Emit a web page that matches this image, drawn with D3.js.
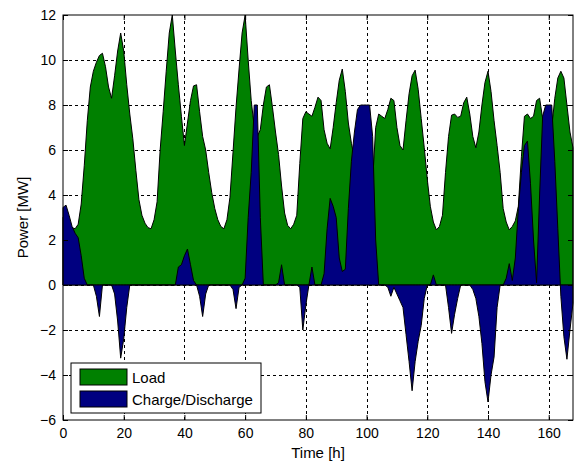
<!DOCTYPE html>
<html>
<head>
<meta charset="utf-8">
<script src="https://cdn.jsdelivr.net/npm/d3@7"></script>
<style>
	body { margin: 0; background: #fff; }
	text { font-family: "Liberation Sans", Arial, sans-serif; fill: #000; }
</style>
</head>
<body>
<div id="chart"></div>
<script>
// hourly values, t = 0..168 h
var load = [
	3.0, 2.8, 2.65, 2.55, 2.5, 2.7, 3.6, 5.3, 7.3, 8.8,
	9.5, 9.9, 10.2, 10.3, 9.7, 8.8, 8.3, 9.3, 10.4, 11.2,
	10.4, 8.9, 7.6, 6.5, 5.1, 3.8, 3.1, 2.75, 2.55, 2.5,
	2.9, 3.7, 6.0, 7.7, 9.5, 11.2, 12.0, 10.4, 8.9, 7.5,
	6.2, 7.2, 8.2, 8.85, 8.9, 7.7, 6.6, 6.0, 5.0, 4.1,
	3.4, 2.9, 2.6, 2.5, 2.9, 3.9, 5.9, 7.9, 9.6, 11.2,
	12.0, 10.0, 8.2, 7.0, 6.6, 6.9, 8.0, 8.8, 8.9, 7.9,
	6.8, 5.8, 4.4, 3.2, 2.65, 2.5, 2.7, 3.1, 5.4, 7.4,
	7.7, 7.6, 7.5, 7.9, 8.35, 8.2, 6.9, 6.3, 6.05, 7.0,
	8.1, 9.1, 9.6, 8.6, 7.2, 6.3, 5.6, 4.6, 3.4, 2.8,
	2.5, 3.0, 4.6, 7.0, 7.6, 7.5, 7.4, 7.8, 8.3, 8.2,
	7.0, 6.2, 6.0, 7.3, 8.5, 9.3, 9.55, 8.7, 7.4, 6.1,
	4.7, 3.5, 2.8, 2.45, 2.6, 3.1, 5.0, 6.6, 7.55, 7.6,
	7.45, 7.5, 8.1, 8.35, 7.6, 6.6, 6.1, 6.8, 8.0, 9.0,
	9.5, 8.6, 7.3, 6.2, 5.0, 3.4, 2.8, 2.45, 2.6, 2.85,
	3.5, 5.7, 7.5, 7.6, 7.4, 7.5, 8.2, 8.3, 7.4, 6.6,
	6.2, 7.0, 8.3, 9.2, 9.5, 9.2, 8.0, 6.8, 6.1
];

var charge = [
	3.45, 3.55, 3.1, 2.6, 2.3, 2.1, 1.3, 0.3, 0, 0,
	0, -0.5, -1.4, 0, 0, 0, 0, -0.4, -1.6, -3.25,
	-2.4, -1.0, 0, 0, 0, 0, 0, 0, 0, 0,
	0, 0, 0, 0, 0, 0, 0, 0, 0.8, 0.9,
	1.3, 1.6, 0.9, 0.2, 0, -0.5, -1.4, -0.4, 0, 0,
	0, 0, 0, 0, 0, 0, -0.2, -1.05, -0.1, 0,
	0.3, 3.0, 5.0, 8.0, 8.0, 3.0, 0, 0, 0, 0,
	0, 0.1, 0.9, 0, 0, 0, 0, 0, -0.1, -2.0,
	-0.9, 0, 0.8, 0, 0, 0, 0.5, 2.5, 3.85, 3.5,
	3.0, 1.2, 0.6, 0.7, 3.4, 5.5, 6.8, 7.8, 8.0, 8.0,
	8.0, 8.0, 6.6, 2.0, 0, 0, 0, -0.1, -0.5, -0.1,
	-0.4, -0.7, -1.0, -2.2, -3.4, -4.7, -3.4, -2.5, -1.8, -0.6,
	0, 0, 0.45, 0, 0, 0, 0, -1.0, -2.15, -1.3,
	-0.6, 0, 0, 0, 0, -0.2, -0.6, -1.4, -2.6, -4.3,
	-5.2, -4.0, -3.2, -1.0, 0, 0, 0.3, 0.95, 0.2, 1.2,
	3.4, 5.0, 6.2, 6.4, 4.5, 2.0, 0.1, 4.0, 7.5, 8.0,
	8.0, 8.0, 5.5, 2.5, -0.5, -2.3, -3.3, -2.0, -0.8
];

var seriesNames = ["Load", "Charge/Discharge"];
var seriesColors = ["#008000", "#000080"];
var xTicks = [0, 20, 40, 60, 80, 100, 120, 140, 160];
var yTicks = [-6, -4, -2, 0, 2, 4, 6, 8, 10, 12];

var width = 576, height = 465;
var margin = {left: 63, top: 15, right: 3, bottom: 45};

var svg = d3.select("#chart").append("svg")
	.attr("width", width)
	.attr("height", height);

var x = d3.scaleLinear()
	.domain([0, 168])
	.range([margin.left, width - margin.right]);
var y = d3.scaleLinear()
	.domain([-6, 12])
	.range([height - margin.bottom, margin.top]);

// dotted grid under the areas
var grid = svg.append("g").attr("class", "grid")
	.attr("stroke", "#000")
	.attr("stroke-width", 1)
	.attr("stroke-dasharray", "3,3");
grid.selectAll("line.gx")
	.data(xTicks.slice(1))
	.enter().append("line")
		.attr("x1", function(d) { return Math.round(x(d)) + 0.5; })
		.attr("x2", function(d) { return Math.round(x(d)) + 0.5; })
		.attr("y1", y(-6))
		.attr("y2", y(12));
grid.selectAll("line.gy")
	.data(yTicks.slice(1, -1))
	.enter().append("line")
		.attr("y1", function(d) { return Math.round(y(d)) + 0.5; })
		.attr("y2", function(d) { return Math.round(y(d)) + 0.5; })
		.attr("x1", x(0))
		.attr("x2", x(168));

var area = d3.area()
	.x(function(d, i) { return x(i); })
	.y0(y(0))
	.y1(function(d) { return y(d); });

svg.selectAll("path.series")
	.data([load, charge])
	.enter().append("path")
		.attr("class", "series")
		.attr("d", area)
		.attr("fill", function(d, i) { return seriesColors[i]; })
		.attr("stroke", "#000")
		.attr("stroke-width", 1)
		.attr("stroke-linejoin", "round");

// axes, MATLAB style box with inner ticks on all sides
svg.append("g")
	.attr("transform", "translate(0," + y(-6) + ")")
	.call(d3.axisBottom(x).tickValues(xTicks).tickSizeInner(-5).tickSizeOuter(0).tickPadding(8));
svg.append("g")
	.attr("transform", "translate(" + x(0) + ",0)")
	.call(d3.axisLeft(y).tickValues(yTicks).tickSizeInner(-5).tickSizeOuter(0).tickPadding(7));
svg.append("g")
	.attr("transform", "translate(0," + y(12) + ")")
	.call(d3.axisTop(x).tickValues(xTicks).tickSizeInner(-5).tickSizeOuter(0).tickFormat(""));
svg.append("g")
	.attr("transform", "translate(" + x(168) + ",0)")
	.call(d3.axisRight(y).tickValues(yTicks).tickSizeInner(-5).tickSizeOuter(0).tickFormat(""));

svg.selectAll(".domain").remove();
svg.selectAll(".tick text")
	.style("font-size", "14px")
	.style("font-family", "'Liberation Sans', Arial, sans-serif");

svg.append("rect")
	.attr("x", x(0))
	.attr("y", y(12))
	.attr("width", x(168) - x(0))
	.attr("height", y(-6) - y(12))
	.attr("fill", "none")
	.attr("stroke", "#000")
	.attr("stroke-width", 1);

svg.append("text")
	.attr("x", (x(0) + x(168)) / 2)
	.attr("y", 458)
	.attr("text-anchor", "middle")
	.style("font-size", "15px")
	.text("Time [h]");

svg.append("text")
	.attr("transform", "translate(28," + (y(-6) + y(12)) / 2 + ") rotate(-90)")
	.attr("text-anchor", "middle")
	.style("font-size", "15px")
	.text("Power [MW]");

// legend
var legend = svg.append("g").attr("transform", "translate(71,363)");
legend.append("rect")
	.attr("width", 190)
	.attr("height", 50)
	.attr("fill", "#fff")
	.attr("stroke", "#000");
var item = legend.selectAll("g.item")
	.data(seriesNames)
	.enter().append("g")
		.attr("class", "item")
		.attr("transform", function(d, i) { return "translate(9," + (6 + i * 22) + ")"; });
item.append("rect")
	.attr("width", 47)
	.attr("height", 16)
	.attr("fill", function(d, i) { return seriesColors[i]; })
	.attr("stroke", "#000");
item.append("text")
	.attr("x", 52)
	.attr("y", 14)
	.style("font-size", "15px")
	.text(function(d) { return d; });
</script>
</body>
</html>
